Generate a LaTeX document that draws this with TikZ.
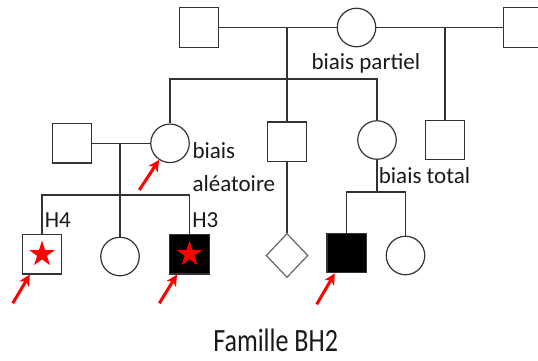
\documentclass[tikz,border=0pt]{standalone}
\usepackage{fontspec}
\setmainfont{Carlito}
\usetikzlibrary{shapes.geometric,arrows.meta}

\begin{document}
\begin{tikzpicture}[x=1pt,y=-1pt,line width=1.2pt,
  male/.style={draw=black!80,rectangle,minimum size=39.5pt,inner sep=0pt},
  female/.style={draw=black!80,circle,minimum size=38.5pt,inner sep=0pt},
  unknown/.style={draw=black!60,diamond,minimum width=42pt,minimum height=44pt,inner sep=0pt},
  affected/.style={male,fill=black},
  starmark/.style={star,star points=5,star point ratio=2.6,fill=red,minimum size=27pt,inner sep=0pt},
  pointer/.style={draw=red,line width=3pt,-{Stealth[length=11pt,width=11pt,inset=3pt]}},
  lbl/.style={anchor=base west,inner sep=0pt,text=black!90,font=\fontsize{23}{26}\selectfont},
  line/.style={draw=black!80}]
\clip (0,0) rectangle (538,360);
\node[male] (sqA) at (199,27.5) {};
\node[female] (circA) at (356.5,27.5) {};
\node[male] (sqR) at (523.5,27.5) {};
\node[male] (sqL) at (72,143.3) {};
\node[female] (circB) at (170,143.3) {};
\node[male] (sqM) at (287,141.7) {};
\node[female] (circC) at (377,140) {};
\node[male] (sqG) at (445,140) {};
\node[male] (sqH4) at (42,254.2) {};
\node[female] (circE) at (120,256.5) {};
\node[affected] (sqH3) at (189.5,254.2) {};
\node[unknown] (dia) at (287,255.5) {};
\node[affected] (sqD) at (346.7,253) {};
\node[female] (circD) at (405.5,255.5) {};
\node[starmark] (starH4) at (sqH4) {};
\node[starmark] (starH3) at (sqH3) {};
\coordinate (m1) at (287,28);
\coordinate (s1) at (287,79);
\coordinate (m3) at (445,28);
\coordinate (m2) at (120,143.3);
\coordinate (s2) at (120,195);
\coordinate (s3) at (377,192);
\draw[line] (sqA) -- (circA);
\draw[line] (circA) -- (sqR);
\draw[line] (m1) -- (sqM);
\draw[line] (circB) |- (s1) -| (circC);
\draw[line] (m3) -- (sqG);
\draw[line] (sqL) -- (circB);
\draw[line] (m2) -- (s2);
\draw[line] (sqH4) |- (s2) -| (sqH3);
\draw[line] (s2) -- (circE);
\draw[line] (sqM) -- (dia);
\draw[line] (circC) -- (s3);
\draw[line] (sqD) |- (s3) -| (circD);
\coordinate (p1) at (12.7,303.3);
\coordinate (p2) at (159.3,303.3);
\coordinate (p3) at (316.7,304.3);
\coordinate (p4) at (139.3,190);
\draw[pointer] (p1) -- (sqH4);
\draw[pointer] (p2) -- (sqH3);
\draw[pointer] (p3) -- (sqD);
\draw[pointer] (p4) -- (circB);
\node[lbl] (partiel) at (311,69.3) {biais partiel};
\node[lbl] (alea1) at (192,158.3) {biais};
\node[lbl] (alea2) at (192,191) {aléatoire};
\node[lbl] (total) at (378.3,183.3) {biais total};
\node[lbl] (h4) at (44.3,227.7) {H4};
\node[lbl] (h3) at (191.7,227.7) {H3};
\node[lbl,font=\fontsize{26}{30}\selectfont] (title) at (212.7,351.7) {\scalebox{1}[1.25]{Famille BH2}};
\end{tikzpicture}
\end{document}
